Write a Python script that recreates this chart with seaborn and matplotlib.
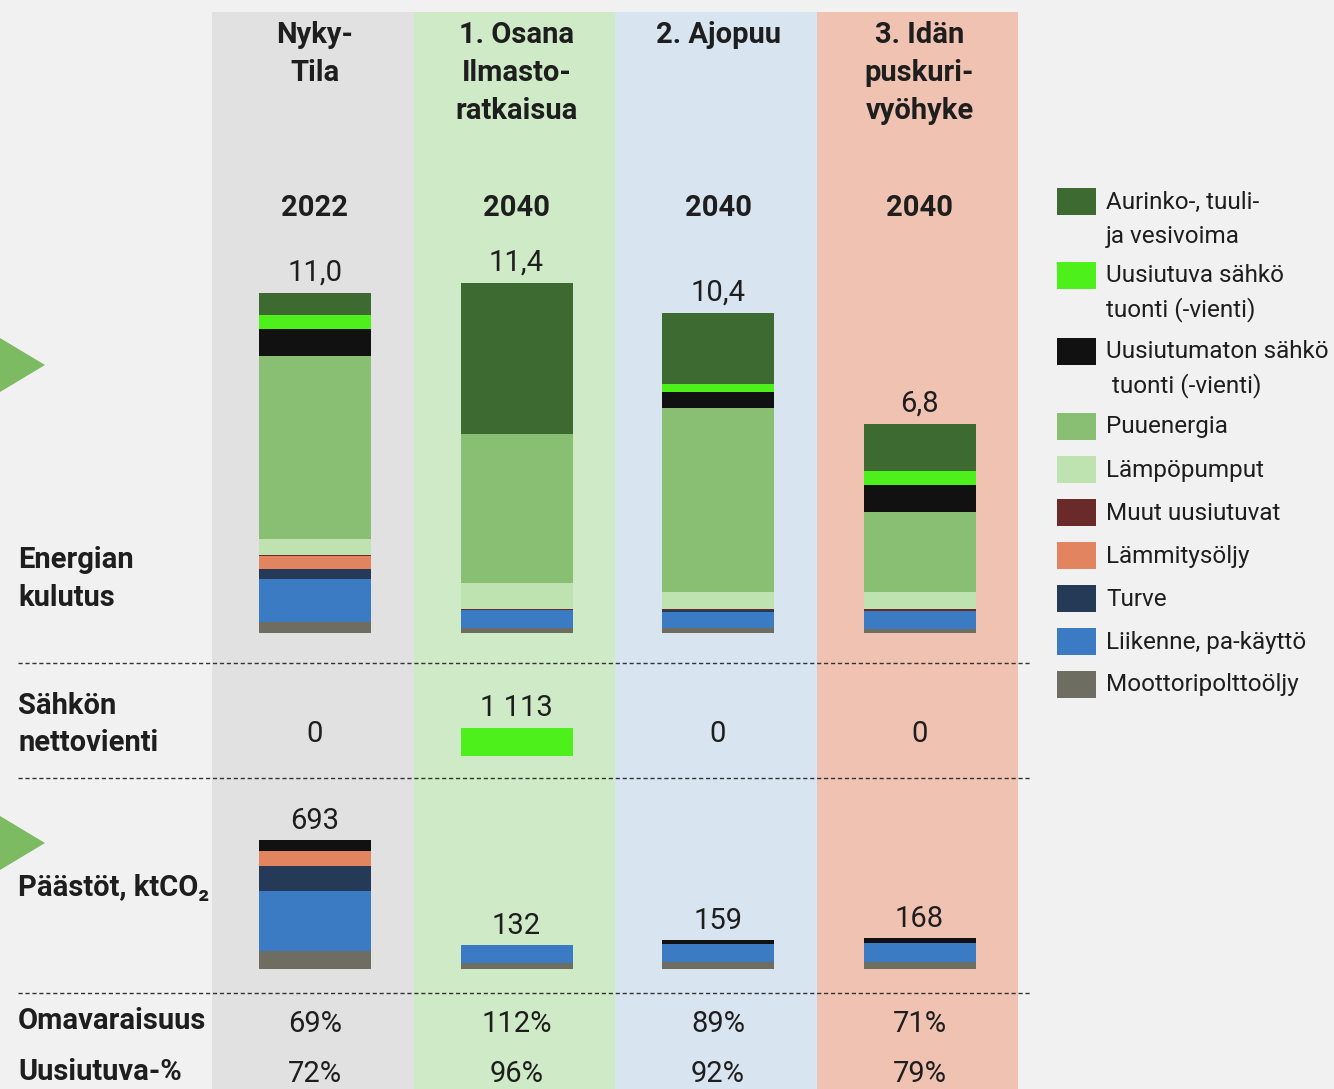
import numpy as np
import matplotlib
matplotlib.use("Agg")
import matplotlib.pyplot as plt
from matplotlib.patches import Rectangle, Polygon
import seaborn as sns

sns.set_theme(style="white")
plt.rcParams['font.family'] = ['Roboto', 'DejaVu Sans']

# ---- data ----
scenarios = ["Nykytila", "Osana", "Ajopuu", "Idan"]
headers = [["Nyky-", "Tila"], ["1. Osana", "Ilmasto-", "ratkaisua"],
           ["2. Ajopuu"], ["3. Idän", "puskuri-", "vyöhyke"]]
years = ["2022", "2040", "2040", "2040"]

# energy use, bottom -> top (TWh)
energy_labels = ["Moottoripolttoöljy", "Liikenne, pa-käyttö", "Turve", "Lämmitysöljy",
                 "Muut uusiutuvat", "Lämpöpumput", "Puuenergia",
                 "Uusiutumaton sähkö\n tuonti (-vienti)", "Uusiutuva sähkö\ntuonti (-vienti)",
                 "Aurinko-, tuuli-\nja vesivoima"]
moottori = [0.36, 0.14, 0.14, 0.11]
liikenne = [1.39, 0.60, 0.54, 0.61]
turve = [0.34, 0.00, 0.05, 0.00]
oljy = [0.41, 0.00, 0.00, 0.00]
muut = [0.04, 0.03, 0.03, 0.05]
lampo = [0.52, 0.84, 0.57, 0.57]
puu = [5.95, 4.87, 5.99, 2.59]
sahko_uusiutumaton = [0.87, 0.00, 0.52, 0.87]
sahko_uusiutuva = [0.46, 0.00, 0.26, 0.48]
aurinko = [0.71, 4.92, 2.31, 1.53]
energy_totals = [11.0, 11.4, 10.4, 6.8]

# net electricity export
export = [0, 1113, 0, 0]

# emissions, bottom -> top (ktCO2)
em_moottori = [100, 35, 41, 41]
em_liikenne = [320, 97, 97, 100]
em_turve = [136, 0, 0, 0]
em_oljy = [80, 0, 0, 0]
em_sahko = [57, 0, 21, 27]
em_totals = [693, 132, 159, 168]

omavaraisuus = ["69%", "112%", "89%", "71%"]
uusiutuva_pct = ["72%", "96%", "92%", "79%"]

# ---- styling ----
c_dark = "#3d6a30"
c_bright = "#4df01b"
c_black = "#111111"
c_puu = "#88bf72"
c_lampo = "#bfe3b0"
c_muut = "#6b2a2a"
c_oljy = "#e38460"
c_turve = "#253a57"
c_liik = "#3b7bc4"
c_moot = "#6e6d62"
energy_colors = [c_moot, c_liik, c_turve, c_oljy, c_muut, c_lampo, c_puu,
                 c_black, c_bright, c_dark]
band_colors = ["#e1e1e1", "#cfeac6", "#d8e4f0", "#f0c2b1"]
txt = "#1e1e1e"
FS = 21
LFS = 17.5
W, H = 1334, 1089
col_c0, col_step = 315, 201.5
bar_w = 112 / col_step

fig = plt.figure(figsize=(W / 100, H / 100), dpi=100)
fig.patch.set_facecolor("#f1f1f1")

bg = fig.add_axes([0, 0, 1, 1])
bg.set_xlim(0, W)
bg.set_ylim(H, 0)
bg.axis("off")

centers = [col_c0 + i * col_step for i in range(4)]
for c, bc in zip(centers, band_colors):
    bg.add_patch(Rectangle((c - col_step / 2 - 2, 12), col_step, H - 12, color=bc, lw=0))

# header texts
for c, lines, yr in zip(centers, headers, years):
    for j, line in enumerate(lines):
        bg.text(c, 35 + 38 * j, line, ha="center", va="center", fontsize=FS,
                fontweight="bold", color=txt)
    bg.text(c, 208, yr, ha="center", va="center", fontsize=FS, fontweight="bold", color=txt)

# row labels
for y, s in [(560, "Energian"), (598, "kulutus"), (706, "Sähkön"), (743, "nettovienti"),
             (888, "Päästöt, ktCO₂"), (1021, "Omavaraisuus"), (1072, "Uusiutuva-%")]:
    bg.text(18, y, s, ha="left", va="center", fontsize=FS, fontweight="bold", color=txt)

for c, a, b in zip(centers, omavaraisuus, uusiutuva_pct):
    bg.text(c, 1024, a, ha="center", va="center", fontsize=FS, color=txt)
    bg.text(c, 1074, b, ha="center", va="center", fontsize=FS, color=txt)

# dashed separators
for y in [663, 778, 993]:
    bg.plot([18, 1030], [y, y], color="#333333", lw=1, ls=(0, (3, 2)))

# green arrows on the left edge
for yc in [365, 843]:
    bg.add_patch(Polygon([(-5, yc - 30), (45, yc), (-5, yc + 30)], closed=True,
                         color="#7dbb62", lw=0))

# legend
leg_tops = [188, 262, 338, 413, 456, 499, 542, 585, 628, 671]
for top, lab, col in zip(leg_tops, energy_labels[::-1], energy_colors[::-1]):
    bg.add_patch(Rectangle((1057, top), 39, 27, color=col, lw=0))
    for j, line in enumerate(lab.split("\n")):
        bg.text(1106, top + 14 + 34 * j, line, ha="left", va="center", fontsize=LFS, color=txt)


def column_axes(y_base, y_top):
    left = (col_c0 - col_step / 2) / W
    ax = fig.add_axes([left, (H - y_base) / H, 4 * col_step / W, (y_base - y_top) / H])
    return ax


def stacked(ax, layers, colors):
    cum = np.cumsum(np.array(layers, dtype=float), axis=0)
    for k in range(len(layers) - 1, -1, -1):
        sns.barplot(x=scenarios, y=cum[k], color=colors[k], width=bar_w,
                    saturation=1, linewidth=0, ax=ax)


# energy panel
ax_e = column_axes(632.7, 250)
stacked(ax_e, [moottori, liikenne, turve, oljy, muut, lampo, puu,
               sahko_uusiutumaton, sahko_uusiutuva, aurinko], energy_colors)
ax_e.set_xlim(-0.5, 3.5)
ax_e.set_ylim(0, (632.7 - 250) / 30.7)
ax_e.axis("off")
energy_sum = np.sum([moottori, liikenne, turve, oljy, muut, lampo, puu,
                     sahko_uusiutumaton, sahko_uusiutuva, aurinko], axis=0)
for i, (h, t) in enumerate(zip(energy_sum, energy_totals)):
    ax_e.annotate(f"{t:.1f}".replace(".", ","), (i, h), xytext=(0, 9),
                  textcoords="offset points", ha="center", va="baseline",
                  fontsize=FS, color=txt)

# export panel
ax_x = column_axes(756, 728)
sns.barplot(x=scenarios, y=export, color=c_bright, width=bar_w, saturation=1,
            linewidth=0, ax=ax_x)
ax_x.set_xlim(-0.5, 3.5)
ax_x.set_ylim(0, max(export))
ax_x.axis("off")
for i, v in enumerate(export):
    if v == 0:
        ax_x.text(i, max(export) * 0.8, "0", ha="center", va="center", fontsize=FS, color=txt)
    else:
        ax_x.annotate(f"{v:,}".replace(",", " "), (i, v), xytext=(0, 9),
                      textcoords="offset points", ha="center", va="baseline",
                      fontsize=FS, color=txt)

# emissions panel
ax_m = column_axes(969.3, 830)
em_layers = [em_moottori, em_liikenne, em_turve, em_oljy, em_sahko]
stacked(ax_m, em_layers, [c_moot, c_liik, c_turve, c_oljy, c_black])
ax_m.set_xlim(-0.5, 3.5)
ax_m.set_ylim(0, 139.3 / 0.1866)
ax_m.axis("off")
for i, t in enumerate(em_totals):
    ax_m.annotate(str(t), (i, np.sum(em_layers, axis=0)[i]), xytext=(0, 8),
                  textcoords="offset points", ha="center", va="baseline",
                  fontsize=FS, color=txt)

fig.savefig("out.png", dpi=100, facecolor=fig.get_facecolor())
